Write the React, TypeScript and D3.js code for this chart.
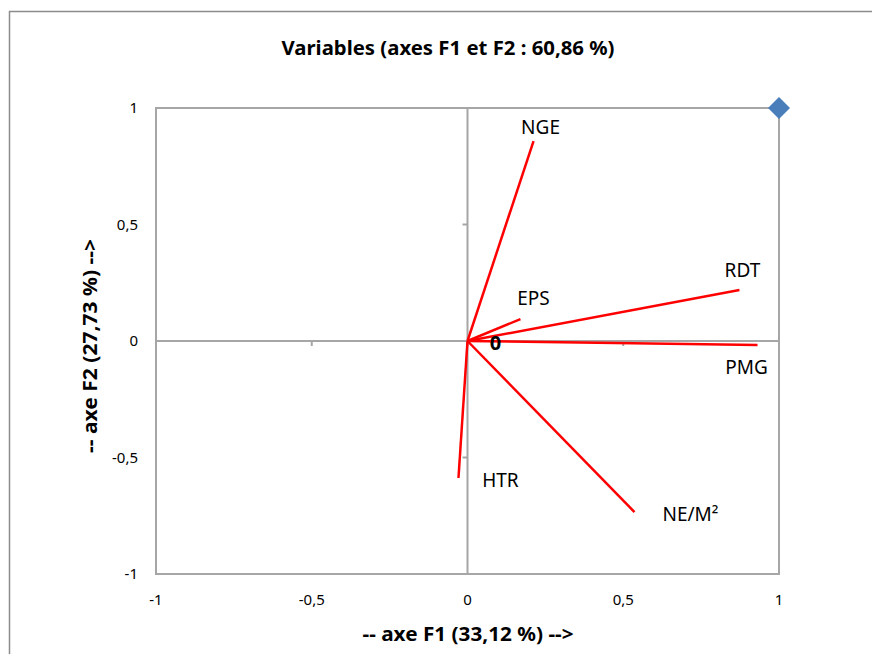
import { useEffect, useRef } from "react";
import * as d3 from "d3";

const varNames = ["NGE", "RDT", "EPS", "PMG", "NE/M²", "HTR"];
const f1 = [0.212, 0.873, 0.17, 0.931, 0.536, -0.029];
const f2 = [0.858, 0.219, 0.094, -0.017, -0.734, -0.588];
// label offsets in px relative to the arrow end
const labelDx = [7, 3, 13, -11, 56, 42];
const labelDy = [-7, -13, -14, 29, 9, 9];
const axisTicks = [-1, -0.5, 0, 0.5, 1];
const activePoint = [1, 1];

const App = () => {
  const ref = useRef<SVGSVGElement>(null);

  useEffect(() => {
    const svg = d3.select(ref.current);
    svg.selectAll("*").remove();
    const font = "'Noto Sans', 'Open Sans', sans-serif";

    // outer chart frame
    svg.append("rect")
      .attr("x", 9.5).attr("y", 11.5)
      .attr("width", 900).attr("height", 700)
      .attr("fill", "white").attr("stroke", "#8c8c8c").attr("stroke-width", 1.5);

    const x = d3.scaleLinear().domain([-1, 1]).range([156, 779]);
    const y = d3.scaleLinear().domain([-1, 1]).range([574, 108]);

    svg.append("text")
      .attr("x", 448).attr("y", 55)
      .attr("text-anchor", "middle")
      .attr("font-family", font).attr("font-weight", "bold")
      .attr("font-size", 19).attr("textLength", 333)
      .attr("lengthAdjust", "spacingAndGlyphs")
      .text("Variables (axes F1 et F2 : 60,86 %)");

    // plot border
    svg.append("rect")
      .attr("x", x(-1)).attr("y", y(1))
      .attr("width", x(1) - x(-1)).attr("height", y(-1) - y(1))
      .attr("fill", "none").attr("stroke", "#a6a6a6").attr("stroke-width", 2);

    // axis lines through origin
    svg.append("line")
      .attr("x1", x(-1)).attr("x2", x(1)).attr("y1", y(0)).attr("y2", y(0))
      .attr("stroke", "#a6a6a6").attr("stroke-width", 2);
    svg.append("line")
      .attr("x1", x(0)).attr("x2", x(0)).attr("y1", y(1)).attr("y2", y(-1))
      .attr("stroke", "#a6a6a6").attr("stroke-width", 2);

    // small tick marks
    svg.append("g").selectAll("line")
      .data(axisTicks)
      .join("line")
      .attr("x1", (d) => x(d)).attr("x2", (d) => x(d))
      .attr("y1", y(0)).attr("y2", y(0) + 5)
      .attr("stroke", "#a6a6a6").attr("stroke-width", 2);
    svg.append("g").selectAll("line")
      .data(axisTicks)
      .join("line")
      .attr("y1", (d) => y(d)).attr("y2", (d) => y(d))
      .attr("x1", x(0) - 5).attr("x2", x(0))
      .attr("stroke", "#a6a6a6").attr("stroke-width", 2);

    const fmt = (d: number) => String(d).replace(".", ",");

    // tick labels
    svg.append("g").selectAll("text")
      .data(axisTicks)
      .join("text")
      .attr("x", (d) => x(d)).attr("y", 605)
      .attr("text-anchor", "middle")
      .attr("font-family", font).attr("font-size", 15)
      .text(fmt);
    svg.append("g").selectAll("text")
      .data(axisTicks)
      .join("text")
      .attr("x", 138).attr("y", (d) => y(d) + 5)
      .attr("text-anchor", "end")
      .attr("font-family", font).attr("font-size", 15)
      .text(fmt);

    // axis titles
    svg.append("text")
      .attr("x", 468).attr("y", 641)
      .attr("text-anchor", "middle")
      .attr("font-family", font).attr("font-weight", "bold")
      .attr("font-size", 19).attr("textLength", 211)
      .attr("lengthAdjust", "spacingAndGlyphs")
      .text("-- axe F1 (33,12 %) -->");
    svg.append("text")
      .attr("transform", `translate(97,346) rotate(-90)`)
      .attr("text-anchor", "middle")
      .attr("font-family", font).attr("font-weight", "bold")
      .attr("font-size", 19).attr("textLength", 214)
      .attr("lengthAdjust", "spacingAndGlyphs")
      .text("-- axe F2 (27,73 %) -->");

    const rows = varNames.map((n, i) => ({ n, a: f1[i], b: f2[i], dx: labelDx[i], dy: labelDy[i] }));

    // variable vectors
    svg.append("g").selectAll("line")
      .data(rows)
      .join("line")
      .attr("x1", x(0)).attr("y1", y(0))
      .attr("x2", (d) => x(d.a)).attr("y2", (d) => y(d.b))
      .attr("stroke", "#ff0000").attr("stroke-width", 2.5);

    svg.append("g").selectAll("text")
      .data(rows)
      .join("text")
      .attr("x", (d) => x(d.a) + d.dx).attr("y", (d) => y(d.b) + d.dy)
      .attr("text-anchor", "middle")
      .attr("font-family", font).attr("font-size", 19)
      .text((d) => d.n);

    // origin label
    svg.append("text")
      .attr("x", x(0) + 28).attr("y", y(0) + 9)
      .attr("text-anchor", "middle")
      .attr("font-family", font).attr("font-weight", "bold")
      .attr("font-size", 20)
      .text("0");

    // active point marker
    svg.append("path")
      .attr("transform", `translate(${x(activePoint[0])},${y(activePoint[1])})`)
      .attr("d", "M0,-11L11,0L0,11L-11,0Z")
      .attr("fill", "#4a7ebb");
  }, []);

  return (
    <svg ref={ref} width={872} height={654}
      style={{ position: "absolute", left: 0, top: 0, display: "block" }} />
  );
};

export default App;
